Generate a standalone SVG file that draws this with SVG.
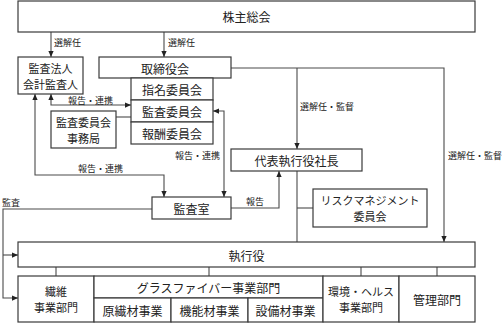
<svg xmlns="http://www.w3.org/2000/svg" width="503" height="323" viewBox="0 0 503 323">
<style>
.box{fill:#fff;stroke:#3a3a3a;stroke-width:1.2}
.ln{fill:none;stroke:#4a4a4a;stroke-width:1.1}
.t{font-family:"Noto Sans CJK JP","Noto Sans",sans-serif;font-size:12px;fill:#222;text-anchor:middle;dominant-baseline:central}
.t2{font-size:11px}
.s{font-family:"Noto Sans CJK JP","Noto Sans",sans-serif;font-size:9px;fill:#222;dominant-baseline:central}
</style>
<defs>
<marker id="ah" viewBox="0 0 8 8" refX="8" refY="4" markerWidth="6" markerHeight="6" markerUnits="userSpaceOnUse" orient="auto-start-reverse">
<path d="M0,0.5 L8,4 L0,7.5 Z" fill="#222"/>
</marker>
</defs>
<rect width="503" height="323" fill="#fff"/>
<g id="connectors">
<path class="ln" d="M51,32 V57" marker-end="url(#ah)"/>
<path class="ln" d="M164,32 V57" marker-end="url(#ah)"/>
<path class="ln" d="M231,68 H444 V242" marker-end="url(#ah)"/>
<path class="ln" d="M297,68 V149" marker-end="url(#ah)"/>
<path class="ln" d="M297,171 V242"/>
<path class="ln" d="M297,208 H313"/>
<path class="ln" d="M231,208 H279 V171" marker-end="url(#ah)"/>
<path class="ln" d="M213,111 H224 V197" marker-start="url(#ah)" marker-end="url(#ah)"/>
<path class="ln" d="M51,94 V105 H131" marker-start="url(#ah)" marker-end="url(#ah)"/>
<path class="ln" d="M116,117 H131"/>
<path class="ln" d="M35,94 V175 H164 V197" marker-start="url(#ah)" marker-end="url(#ah)"/>
<path class="ln" d="M152,209 H3 V298 H18" marker-end="url(#ah)"/>
<path class="ln" d="M3,255 H18" marker-end="url(#ah)"/>
<path class="ln" d="M56,267 V276 M209,267 V276 M361,267 V276 M437,267 V276"/>
<text class="s" x="54" y="42">選解任</text>
<text class="s" x="168" y="42">選解任</text>
<text class="s" x="68" y="100">報告・連携</text>
<text class="s" x="175" y="155">報告・連携</text>
<text class="s" x="78" y="168">報告・連携</text>
<text class="s" x="246" y="201">報告</text>
<text class="s" x="2" y="202">監査</text>
<text class="s" x="300" y="106">選解任・監督</text>
<text class="s" x="448" y="155">選解任・監督</text>
</g>
<g id="shareholders"><rect class="box" x="18" y="1" width="457" height="31"/><text class="t" x="246.5" y="16">株主総会</text></g>
<g id="auditor"><rect class="box" x="18" y="57" width="65" height="37"/><text class="t t2" x="50.5" y="68">監査法人</text><text class="t t2" x="50.5" y="84">会計監査人</text></g>
<g id="board"><rect class="box" x="99" y="57" width="132" height="21"/><text class="t" x="165" y="68">取締役会</text></g>
<g id="nomination"><rect class="box" x="131" y="78" width="82" height="22"/><text class="t" x="172" y="89">指名委員会</text></g>
<g id="audit-committee"><rect class="box" x="131" y="100" width="82" height="22"/><text class="t" x="172" y="111">監査委員会</text></g>
<g id="compensation"><rect class="box" x="131" y="122" width="82" height="22"/><text class="t" x="172" y="133">報酬委員会</text></g>
<g id="audit-office-secretariat"><rect class="box" x="51" y="111" width="65" height="37"/><text class="t t2" x="83.5" y="122">監査委員会</text><text class="t t2" x="83.5" y="138">事務局</text></g>
<g id="ceo"><rect class="box" x="231" y="149" width="131" height="22"/><text class="t" x="296.5" y="160">代表執行役社長</text></g>
<g id="internal-audit"><rect class="box" x="152" y="197" width="79" height="22"/><text class="t" x="191.5" y="208">監査室</text></g>
<g id="risk"><rect class="box" x="313" y="189" width="114" height="38"/><text class="t t2" x="370" y="200">リスクマネジメント</text><text class="t t2" x="370" y="216">委員会</text></g>
<g id="executive-officers"><rect class="box" x="18" y="242" width="457" height="25"/><text class="t" x="246.5" y="255">執行役</text></g>
<g id="fiber"><rect class="box" x="18" y="276" width="76" height="46"/><text class="t t2" x="56" y="291">繊維</text><text class="t t2" x="56" y="307">事業部門</text></g>
<g id="glassfiber"><rect class="box" x="94" y="276" width="229" height="22"/><text class="t" x="208.5" y="287">グラスファイバー事業部門</text></g>
<g id="raw-fiber"><rect class="box" x="94" y="298" width="77" height="24"/><text class="t" x="132.5" y="310.5">原繊材事業</text></g>
<g id="functional"><rect class="box" x="171" y="298" width="77" height="24"/><text class="t" x="209.5" y="310.5">機能材事業</text></g>
<g id="equipment"><rect class="box" x="248" y="298" width="75" height="24"/><text class="t" x="285.5" y="310.5">設備材事業</text></g>
<g id="env-health"><rect class="box" x="323" y="276" width="76" height="46"/><text class="t t2" x="361" y="291">環境・ヘルス</text><text class="t t2" x="361" y="307">事業部門</text></g>
<g id="admin"><rect class="box" x="399" y="276" width="76" height="46"/><text class="t" x="437" y="299">管理部門</text></g>
</svg>
